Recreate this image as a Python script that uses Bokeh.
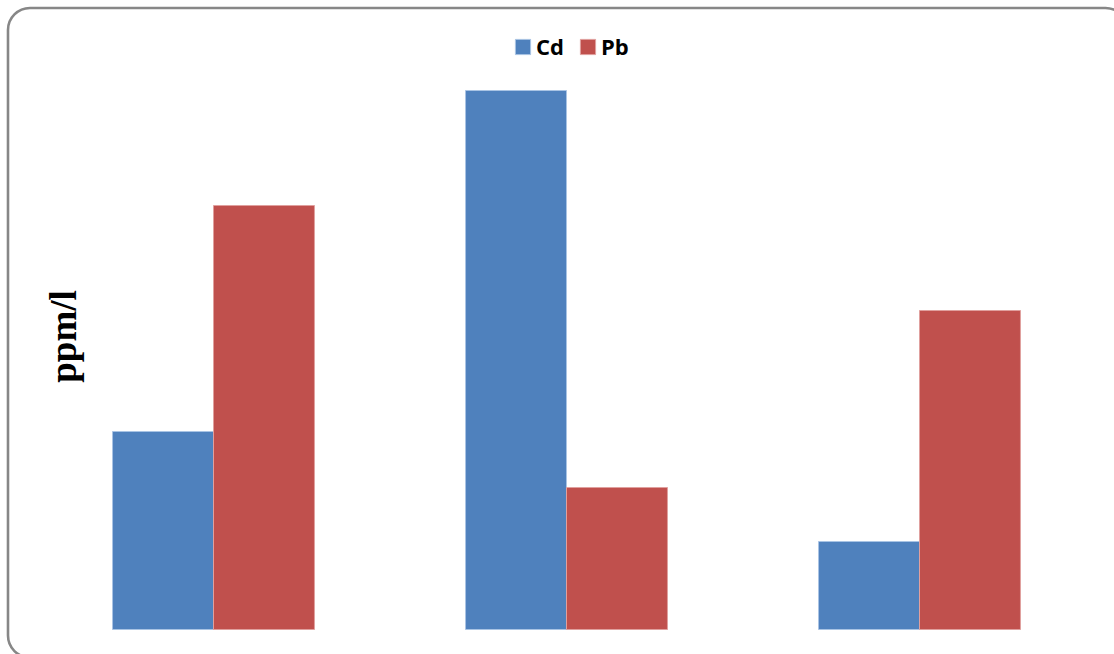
import math
from bokeh.plotting import figure
from bokeh.models import Range1d, BoxAnnotation, Label, Legend, LegendItem, ColumnDataSource
from bokeh.embed import file_html
from bokeh.resources import INLINE

# ---- data ----
groups = ["Sample 1", "Sample 2", "Sample 3"]
series = ["Cd", "Pb"]
cd_values = [1.98, 5.39, 0.88]
pb_values = [4.24, 1.42, 3.19]
colors = ["#4F81BD", "#C0504D"]
y_label = "ppm/l"

W, H = 1114, 654
PX_X = 353.0   # pixels per group step
PX_Y = 100.0   # pixels per value unit
bar_w = 0.286
x0 = -213 / PX_X
x1 = x0 + W / PX_X
y1 = 629 / PX_Y
y0 = y1 - H / PX_Y


def sx(px):
    return x0 + px / PX_X


def sy(py):
    return y1 - py / PX_Y


p = figure(width=W, height=H, output_backend="svg", toolbar_location=None,
           x_range=Range1d(x0, x1), y_range=Range1d(y0, y1),
           min_border=0, min_border_left=0, min_border_right=0,
           min_border_top=0, min_border_bottom=0)
p.axis.visible = False
p.grid.visible = False
p.outline_line_color = None
p.background_fill_color = "white"
p.border_fill_color = "white"

xs = list(range(len(groups)))
src_cd = ColumnDataSource(dict(x=[i - bar_w / 2 for i in xs], top=cd_values))
src_pb = ColumnDataSource(dict(x=[i + bar_w / 2 for i in xs], top=pb_values))
r_cd = p.vbar(x="x", top="top", bottom=0, width=bar_w, source=src_cd,
              fill_color=colors[0], line_color="#A9C4E4", line_width=1)
r_pb = p.vbar(x="x", top="top", bottom=0, width=bar_w, source=src_pb,
              fill_color=colors[1], line_color="#E0A09E", line_width=1)

# rounded chart border
box = BoxAnnotation(left=sx(7.5), right=sx(1127), top=sy(7.5), bottom=sy(657),
                    fill_alpha=0, line_color="#878787", line_alpha=1.0,
                    line_width=2.6, border_radius=22, level="overlay")
p.add_layout(box)

lab = Label(x=sx(63), y=sy(336), text=y_label,
            angle=math.pi / 2, text_align="center", text_baseline="middle",
            text_font="Liberation Serif", text_font_style="bold",
            text_font_size="37px", text_color="black")
p.add_layout(lab)

legend = Legend(items=[LegendItem(label=series[0], renderers=[r_cd]),
                       LegendItem(label=series[1], renderers=[r_pb])],
                orientation="horizontal", location=(513, 593),
                border_line_color=None, background_fill_alpha=0,
                label_text_font="Open Sans", label_text_font_style="bold",
                label_text_font_size="22px", label_text_color="black",
                glyph_width=19, glyph_height=19, label_standoff=4, spacing=14,
                padding=0, margin=0)
p.add_layout(legend)

open("out.html", "w").write(file_html(p, INLINE))
